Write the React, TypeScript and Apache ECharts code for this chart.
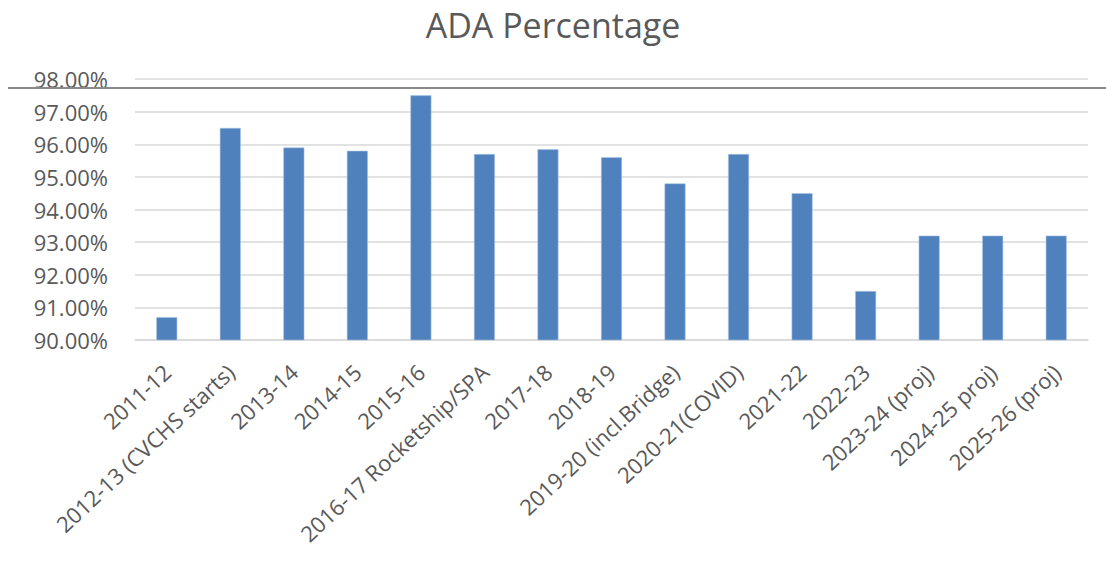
import React, { useEffect, useRef } from "react";
import * as echarts from "echarts";

const categories = [
  "2011-12",
  "2012-13 (CVCHS starts)",
  "2013-14",
  "2014-15",
  "2015-16",
  "2016-17 Rocketship/SPA",
  "2017-18",
  "2018-19",
  "2019-20 (incl.Bridge)",
  "2020-21(COVID)",
  "2021-22",
  "2022-23",
  "2023-24 (proj)",
  "2024-25 proj)",
  "2025-26 (proj)",
];

const adaValues = [
  90.7, 96.5, 95.9, 95.8, 97.5, 95.7, 95.85, 95.6, 94.8, 95.7, 94.5, 91.5, 93.2, 93.2, 93.2,
];

const yMin = 90;
const yMax = 98;
const yInterval = 1;

export default function App() {
  const ref = useRef<HTMLDivElement>(null);
  useEffect(() => {
    if (!ref.current) return;
    const chart = echarts.init(ref.current, null, { renderer: "svg" });
    const font = "'Open Sans', 'Noto Sans', sans-serif";
    chart.setOption({
      animation: false,
      backgroundColor: "#ffffff",
      title: {
        text: "ADA Percentage",
        left: "center",
        top: 3,
        textStyle: {
          color: "#595959",
          fontFamily: font,
          fontSize: 34,
          fontWeight: "normal",
        },
      },
      grid: { left: 135, right: 18, top: 79, bottom: 223, containLabel: false },
      xAxis: {
        type: "category",
        data: categories,
        axisLine: { show: true, lineStyle: { color: "#d9d9d9", width: 1.5 } },
        axisTick: { show: false },
        axisLabel: {
          rotate: 43,
          interval: 0,
          margin: 28,
          color: "#595959",
          fontFamily: font,
          fontSize: 22,
        },
      },
      yAxis: {
        type: "value",
        min: yMin,
        max: yMax,
        interval: yInterval,
        axisLine: { show: false },
        axisTick: { show: false },
        splitLine: { lineStyle: { color: "#d9d9d9", width: 1.5 } },
        axisLabel: {
          margin: 27,
          color: "#595959",
          fontFamily: font,
          fontSize: 22,
          formatter: (v: number) => v.toFixed(2) + "%",
        },
      },
      series: [
        {
          type: "bar",
          data: adaValues,
          barWidth: 21,
          itemStyle: { color: "#4f81bd", borderColor: "#a9c4e6", borderWidth: 0.6 },
        },
      ],
      graphic: [
        {
          type: "line",
          shape: { x1: 8, y1: 88, x2: 1106, y2: 88 },
          style: { stroke: "#8a8a8a", lineWidth: 2 },
          z: 100,
        },
      ],
    });
    return () => chart.dispose();
  }, []);
  return (
    <div
      ref={ref}
      style={{ position: "fixed", left: 0, top: 0, width: 1106, height: 563 }}
    />
  );
}
